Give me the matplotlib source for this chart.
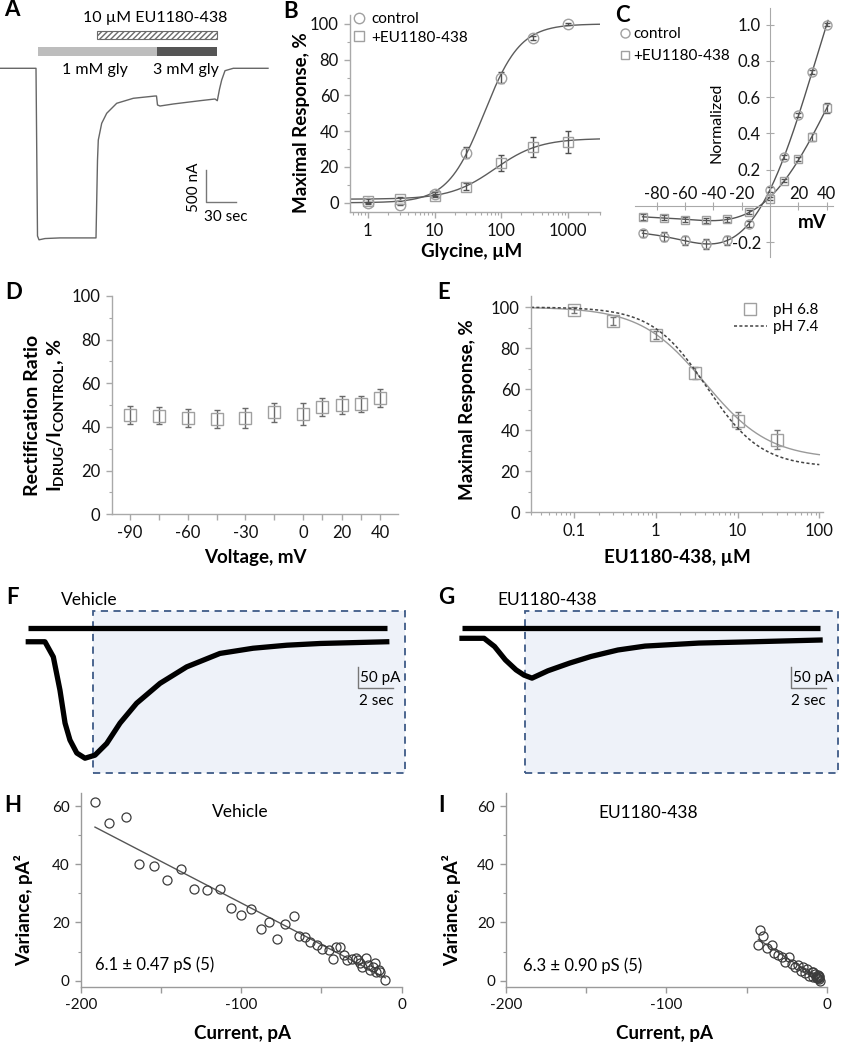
import numpy as np
import matplotlib
matplotlib.use('Agg')
import matplotlib.pyplot as plt
from matplotlib.patches import Rectangle
from matplotlib.ticker import LogLocator, NullFormatter, MultipleLocator
from numpy.polynomial.polynomial import Polynomial

plt.rcParams['font.family'] = ['Lato', 'DejaVu Sans']
plt.rcParams['mathtext.fontset'] = 'custom'
plt.rcParams['mathtext.rm'] = 'Lato'
plt.rcParams['mathtext.bf'] = 'Lato:bold'
plt.rcParams['hatch.linewidth'] = 1.0
plt.rcParams['axes.unicode_minus'] = False

# ---------------- data ----------------
# A: oocyte current trace (sec, nA) and application times (sec)
a_time = [0, 36, 37.5, 39, 45, 60, 96, 97.5, 98.3, 101.7, 106.7, 116.7, 133.3, 155, 156.5,
          157.5, 160, 173.3, 200, 215, 217.3, 219.5, 221.7, 225, 233.3, 268]
a_current = [0, 0, -2650, -2710, -2690, -2680, -2680, -1450, -1133, -869, -711, -553, -474, -438, -438,
             -580, -596, -564, -512, -485, -512, -330, -185, -38, 0, 0]
gly1_on, gly3_on, gly3_off = 37.7, 157, 217.3
drug_on, drug_off = 96.7, 217.3

# B: glycine concentration-response (%)
gly = [1, 3, 10, 30, 100, 300, 1000]
b_ctrl = [0, -1, 5, 28, 70, 92, 100]
b_ctrl_err = [0.5, 0.5, 1, 3, 3, 1, 0.5]
b_eu = [1, 2, 4, 9, 22, 31, 34]
b_eu_err = [1, 1, 1, 2, 4.5, 5.5, 6]
b_ctrl_fit = (0, 100, 55, 1.6)    # bottom, top, EC50, nH
b_eu_fit = (2, 36, 80, 1.3)

# C: I-V relationship
c_volt = [-90, -75, -60, -45, -30, -15, 0, 10, 20, 30, 40]
c_ctrl = [-0.15, -0.17, -0.19, -0.21, -0.19, -0.10, 0.09, 0.27, 0.50, 0.74, 1.0]
c_ctrl_err = [0.02, 0.025, 0.025, 0.03, 0.025, 0.015, 0.015, 0.01, 0.01, 0.01, 0.01]
c_eu = [-0.06, -0.065, -0.076, -0.08, -0.074, -0.034, 0.04, 0.14, 0.26, 0.38, 0.54]
c_eu_err = [0.015, 0.015, 0.015, 0.015, 0.015, 0.01, 0.01, 0.01, 0.01, 0.02, 0.03]

# D: rectification ratio
d_volt = [-90, -75, -60, -45, -30, -15, 0, 10, 20, 30, 40]
d_ratio = [45.5, 45.2, 44.1, 43.7, 44.1, 46.7, 46.0, 49.2, 50.0, 50.5, 53.2]
d_err = [4, 4, 4, 4, 4.5, 4.5, 5, 4, 4, 3.5, 4]

# E: EU1180-438 inhibition
e_conc = [0.1, 0.3, 1, 3, 10, 30]
e_resp = [98.5, 93.2, 86.3, 67.9, 44.7, 35.4]
e_err = [1.5, 2, 2, 3, 4, 4.5]
e_fit_68 = (100, 26, 4.0, 1.1)    # low, high, IC50, nH
e_fit_74 = (100, 22, 4.2, 1.3)

# F / G: current traces (sec, pA)
f_time = [0, 0.95, 1.43, 1.81, 2.10, 2.38, 2.77, 3.24, 3.81, 4.48, 5.24, 6.19, 7.53, 9.05,
          10.95, 12.84, 14.77, 16.67, 18.6, 20.48]
f_current = [0, 0, -35, -112, -188, -227, -257, -269, -262, -235, -188, -142, -96, -58,
             -27, -15, -8, -4, -2, 0]
f_top = 31
g_time = [0, 1.26, 1.86, 2.48, 3.09, 3.54, 4.0, 4.91, 6.17, 7.37, 8.91, 10.46, 13.54, 16.63, 20.46]
g_current = [0, 0, -19, -50, -73, -85, -92, -75, -57, -42, -27, -18, -11, -8, -4]
g_top = 23
trace_end = 20.48

# H / I: variance vs current
h_current = [-191.1, -182.4, -171.8, -163.7, -154.2, -146.1, -137.8, -129.7, -121.2, -113.3,
             -106.3, -100.1, -94.0, -87.8, -82.6, -77.8, -72.4, -66.8, -64.0, -60.0, -56.9,
             -53.0, -49.4, -45.3, -42.8, -41.1, -38.6, -36.2, -34.1, -30.8, -28.7, -27.2,
             -25.8, -24.8, -22.5, -21.0, -19.6, -17.9, -16.9, -15.8, -14.2, -13.3, -10.2]
h_variance = [61.5, 54.1, 56.4, 40.1, 39.4, 34.6, 38.3, 31.4, 31.2, 31.4,
              25.1, 22.5, 24.6, 17.8, 20.2, 14.4, 19.4, 22.2, 15.5, 15.1, 13.2,
              12.3, 10.8, 10.5, 7.3, 11.7, 11.7, 8.8, 7.1, 7.3, 7.7, 7.1,
              6.2, 4.8, 7.7, 5.4, 3.7, 4.8, 6.0, 2.9, 3.7, 2.9, 0.2]
i_current = [-41.5, -39.5, -42.6, -37.4, -34.2, -32.8, -30.1, -28.0, -23.3, -26.0, -21.8, -19.7,
             -17.6, -16.2, -14.9, -13.5, -12.0, -10.8, -9.3, -8.3, -7.2, -6.2, -5.1, -4.5, -4.1,
             -5.7, -8.3, -6.5, -5.5, -4.8]
i_variance = [17.5, 15.5, 12.4, 11.3, 12.1, 9.4, 8.9, 8.0, 8.3, 6.3, 5.7, 4.6,
              5.5, 3.4, 4.6, 2.5, 4.0, 1.7, 2.9, 1.4, 2.3, 0.9, 1.7, 0.6, -0.2,
              2.0, 3.1, 1.2, 0.8, 1.3]

# ---------------- helpers ----------------
W, H = 843, 1050
fig = plt.figure(figsize=(W / 100, H / 100), dpi=100)


def px_axes(left, top, right, bottom):
    return fig.add_axes([left / W, 1 - bottom / H, (right - left) / W, (bottom - top) / H])


def ftext(x, y, s, ha='center', va='center', **kw):
    fig.text(x / W, 1 - y / H, s, ha=ha, va=va, **kw)


def hill(x, bottom, top, ec50, n):
    x = np.asarray(x, dtype=float)
    return bottom + (top - bottom) / (1 + (ec50 / x) ** n)


AXC = '#a9a9a9'
MK = '#a0a0a0'
TICK_FS = 12
LAB_FS = 13.5
LEG_FS = 11


def style(ax, color=AXC, fs=TICK_FS):
    for s in ['top', 'right']:
        ax.spines[s].set_visible(False)
    for s in ['left', 'bottom']:
        ax.spines[s].set_color(color)
        ax.spines[s].set_linewidth(1)
    ax.tick_params(which='both', color=color, labelsize=fs, labelcolor='#111111', direction='out')
    ax.tick_params(which='major', length=4.5, width=1)
    ax.tick_params(which='minor', length=2.5, width=0.8)
    ax.patch.set_alpha(0)


# panel letters
for lab, x, y in [('A', 12, 10), ('B', 291, 12), ('C', 622, 15), ('D', 14, 292), ('E', 444, 293),
                  ('F', 12, 598), ('G', 446, 598), ('H', 13, 805), ('I', 441, 805)]:
    ftext(x, y, lab, fontsize=16, fontweight='bold')

# ---------------- A ----------------
axA = px_axes(0, 0, 280, 260)
axA.set_xlim(0, 280)
axA.set_ylim(-3029, 1079)
axA.axis('off')
axA.plot(a_time, a_current, color='#666666', lw=1.0)
axA.add_patch(Rectangle((drug_on, 463), drug_off - drug_on, 126, facecolor='white',
                        edgecolor='#6a6a6a', hatch='//////', lw=0.8))
axA.add_patch(Rectangle((gly1_on, 202), gly3_on - gly1_on, 135, facecolor='#bdbdbd', lw=0))
axA.add_patch(Rectangle((gly3_on, 202), gly3_off - gly3_on, 135, facecolor='#555555', lw=0))
axA.plot([205.7, 205.7, 235.7], [-1607, -2108, -2108], color='#777777', lw=1)
ftext(155, 18, '10 µM EU1180-438', fontsize=11.5)
ftext(95, 70, '1 mM gly', fontsize=11.5)
ftext(186, 70, '3 mM gly', fontsize=11.5)
ftext(194, 187, '500 nA', rotation=90, fontsize=11)
ftext(226, 217, '30 sec', fontsize=11)

# ---------------- B ----------------
axB = px_axes(350, 15, 600, 211.7)
style(axB)
axB.set_xscale('log')
axB.set_xlim(0.54, 3000)
axB.set_ylim(-5, 105)
xs = np.logspace(np.log10(0.54), np.log10(3000), 400)
axB.plot(xs, hill(xs, *b_ctrl_fit), color='#5c5c5c', lw=1)
axB.plot(xs, hill(xs, *b_eu_fit), color='#5c5c5c', lw=1)
axB.errorbar(gly, b_ctrl, yerr=b_ctrl_err, fmt='none', ecolor='#505050', elinewidth=1, capsize=2.5)
axB.errorbar(gly, b_eu, yerr=b_eu_err, fmt='none', ecolor='#505050', elinewidth=1, capsize=2.5)
axB.plot(gly, b_ctrl, 'o', mfc='none', mec=MK, ms=7.5, mew=1, label='control')
axB.plot(gly, b_eu, 's', mfc='none', mec=MK, ms=7, mew=1, label='+EU1180-438')
axB.set_xticks([1, 10, 100, 1000], ['1', '10', '100', '1000'])
axB.xaxis.set_minor_locator(LogLocator(subs=np.arange(2, 10), numticks=20))
axB.xaxis.set_minor_formatter(NullFormatter())
axB.set_yticks([0, 20, 40, 60, 80, 100])
axB.yaxis.set_minor_locator(MultipleLocator(10))
axB.legend(loc='upper left', bbox_to_anchor=(353 / W, 1 - 12 / H), bbox_transform=fig.transFigure,
           frameon=False, fontsize=LEG_FS, handlelength=0.8, handletextpad=0.4, borderpad=0,
           labelspacing=0.3, borderaxespad=0)
ftext(302, 123, 'Maximal Response, %', rotation=90, fontsize=LAB_FS, fontweight='bold')
ftext(472, 252, 'Glycine, µM', fontsize=LAB_FS, fontweight='bold')

# ---------------- C ----------------
axC = px_axes(635, 8.3, 833.3, 256.7)
axC.set_xlim(-95.3, 44.7)
axC.set_ylim(-0.28, 1.09)
axC.patch.set_alpha(0)
axC.spines['right'].set_visible(False)
axC.spines['bottom'].set_visible(False)
axC.spines['top'].set_position(('data', 0))
axC.spines['left'].set_position(('data', 0))
for s in ['top', 'left']:
    axC.spines[s].set_color(AXC)
axC.xaxis.set_ticks_position('top')
axC.tick_params(which='both', color=AXC, labelsize=TICK_FS, direction='inout', length=6, labelcolor='#111111')
axC.tick_params(axis='x', pad=0)
axC.set_xticks([-80, -60, -40, -20, 20, 40])
axC.set_yticks([-0.2, 0.2, 0.4, 0.6, 0.8, 1.0], ['-0.2', '0.2', '0.4', '0.6', '0.8', '1.0'])
vs = np.linspace(-90, 41, 300)
axC.plot(vs, Polynomial.fit(c_volt, c_ctrl, 5)(vs), color='#555555', lw=1)
axC.plot(vs, Polynomial.fit(c_volt, c_eu, 5)(vs), color='#555555', lw=1)
axC.errorbar(c_volt, c_ctrl, yerr=c_ctrl_err, fmt='none', ecolor='#555555', elinewidth=0.9, capsize=2)
axC.errorbar(c_volt, c_eu, yerr=c_eu_err, fmt='none', ecolor='#555555', elinewidth=0.9, capsize=2)
axC.plot(c_volt, c_ctrl, 'o', mfc='none', mec=MK, ms=6.5, mew=1, label='control')
axC.plot(c_volt, c_eu, 's', mfc='none', mec=MK, ms=6, mew=1, label='+EU1180-438')
axC.legend(loc='upper left', bbox_to_anchor=(621 / W, 1 - 27 / H), bbox_transform=fig.transFigure,
           frameon=False, fontsize=LEG_FS, handlelength=0.5, handletextpad=0.3, borderpad=0,
           labelspacing=0.55, borderaxespad=0)
ftext(717, 123, 'Normalized', rotation=90, fontsize=11.5)
ftext(812, 223, 'mV', fontsize=LAB_FS, fontweight='bold')

# ---------------- D ----------------
axD = px_axes(111.7, 296, 398.3, 514.3)
style(axD)
axD.set_xlim(-99.5, 49.5)
axD.set_ylim(0, 100)
axD.errorbar(d_volt, d_ratio, yerr=d_err, fmt='none', ecolor='#6a6a6a', elinewidth=1, capsize=2.5)
axD.plot(d_volt, d_ratio, 's', mfc='none', mec=MK, ms=8, mew=1)
axD.set_xticks(d_volt, ['-90', '', '-60', '', '-30', '', '0', '', '20', '', '40'])
axD.set_yticks([0, 20, 40, 60, 80, 100])
axD.yaxis.set_minor_locator(MultipleLocator(10))
ftext(33, 415, 'Rectification Ratio', rotation=90, fontsize=LAB_FS + 0.5, fontweight='bold')
ftext(56, 415, r'$\mathbf{I}_{\mathbf{DRUG}}\mathbf{/I}_{\mathbf{CONTROL}}$, %', rotation=90,
      fontsize=LAB_FS + 0.5, fontweight='bold')
ftext(255, 557, 'Voltage, mV', fontsize=LAB_FS, fontweight='bold')

# ---------------- E ----------------
axE = px_axes(531, 296, 822.7, 512.3)
style(axE)
axE.set_xscale('log')
axE.set_xlim(0.0298, 110)
axE.set_ylim(0, 105.4)
xe = np.logspace(np.log10(0.0298), 2, 400)
axE.plot(xe, hill(xe, *e_fit_68), color='#9a9a9a', lw=1)
axE.errorbar(e_conc, e_resp, yerr=e_err, fmt='none', ecolor='#777777', elinewidth=1, capsize=2.5)
axE.plot(e_conc, e_resp, 's', mfc='none', mec=MK, ms=9, mew=1, label='pH 6.8')
axE.plot(xe, hill(xe, *e_fit_74), color='#444444', lw=1.1, ls=(0, (2, 1.5)), label='pH 7.4')
axE.set_xticks([0.1, 1, 10, 100], ['0.1', '1', '10', '100'])
axE.xaxis.set_minor_locator(LogLocator(subs=np.arange(2, 10), numticks=20))
axE.xaxis.set_minor_formatter(NullFormatter())
axE.set_yticks([0, 20, 40, 60, 80, 100])
axE.yaxis.set_minor_locator(MultipleLocator(10))
axE.legend(loc='upper right', bbox_to_anchor=(818 / W, 1 - 303 / H), bbox_transform=fig.transFigure,
           frameon=False, fontsize=LEG_FS, handlelength=2.1, handletextpad=0.4, borderpad=0,
           labelspacing=0.2, borderaxespad=0)
ftext(467, 410, 'Maximal Response, %', rotation=90, fontsize=LAB_FS, fontweight='bold')
ftext(677, 557, 'EU1180-438, µM', fontsize=LAB_FS, fontweight='bold')


# ---------------- F / G ----------------
def trace_panel(rect, xlim, ylim, t, cur, top, box, bar_t, bar_i, title, title_xy):
    ax = px_axes(*rect)
    ax.set_xlim(*xlim)
    ax.set_ylim(*ylim)
    ax.axis('off')
    ax.add_patch(Rectangle((box[0], box[2]), box[1] - box[0], box[3] - box[2], facecolor='#eef2f9',
                           edgecolor='#3e5b87', ls=(0, (4, 3)), lw=1.3, zorder=0))
    ax.plot([0, trace_end], [top, top], color='black', lw=3.8, solid_capstyle='butt')
    ax.plot(t, cur, color='black', lw=3.8, solid_joinstyle='round')
    ax.plot([bar_t, bar_t, bar_t + 2], [bar_i, bar_i - 50, bar_i - 50], color='#777777', lw=1)
    ax.text(bar_t + 0.1, bar_i - 25, '50 pA', ha='left', va='center', fontsize=11)
    ax.text(bar_t + 1.0, bar_i - 80, '2 sec', ha='center', va='center', fontsize=11)
    ftext(title_xy[0], title_xy[1], title, fontsize=12.5)


trace_panel((20, 595, 420, 795), (-0.474, 22.38), (-354, 108), f_time, f_current, f_top,
            (3.68, 21.53, -304, 71.6), 18.86, -57.7, 'Vehicle', (89, 600))
trace_panel((449, 595, 843, 795), (-0.743, 21.77), (-361.9, 100), g_time, g_current, g_top,
            (3.6, 21.49, -311.8, 63.7), 18.8, -65.6, 'EU1180-438', (547, 600))


# ---------------- H / I ----------------
def var_panel(rect, cur, var, title, title_xy, note, note_xy):
    ax = px_axes(*rect)
    style(ax, color='#9a9a9a', fs=11)
    ax.set_xlim(-200, 0)
    ax.set_ylim(-2, 64.5)
    coef = np.polyfit(cur, var, 1)
    xl = np.array([min(cur), max(cur)])
    ax.plot(xl, np.polyval(coef, xl), color='#555555', lw=1)
    ax.plot(cur, var, 'o', mfc='none', mec='#3c3c3c', ms=6.5, mew=0.9)
    ax.set_xticks([-200, -150, -100, -50, 0], ['-200', '', '-100', '', '0'])
    ax.set_yticks([0, 20, 40, 60])
    ax.yaxis.set_minor_locator(MultipleLocator(10))
    ftext(title_xy[0], title_xy[1], title, fontsize=12.5)
    ftext(note_xy[0], note_xy[1], note, ha='left', fontsize=12)
    return ax


var_panel((80.7, 793, 401.7, 986.5), h_current, h_variance, 'Vehicle', (240, 812),
          '6.1 ± 0.47 pS (5)', (95, 965))
var_panel((506, 793, 826.7, 986.5), i_current, i_variance, 'EU1180-438', (648, 813),
          '6.3 ± 0.90 pS (5)', (523, 966))
for x in (24, 452):
    ftext(x, 910, 'Variance, pA²', rotation=90, fontsize=LAB_FS, fontweight='bold')
ftext(242, 1033, 'Current, pA', fontsize=LAB_FS, fontweight='bold')
ftext(664, 1033, 'Current, pA', fontsize=LAB_FS, fontweight='bold')

fig.savefig('out.png', dpi=100)
